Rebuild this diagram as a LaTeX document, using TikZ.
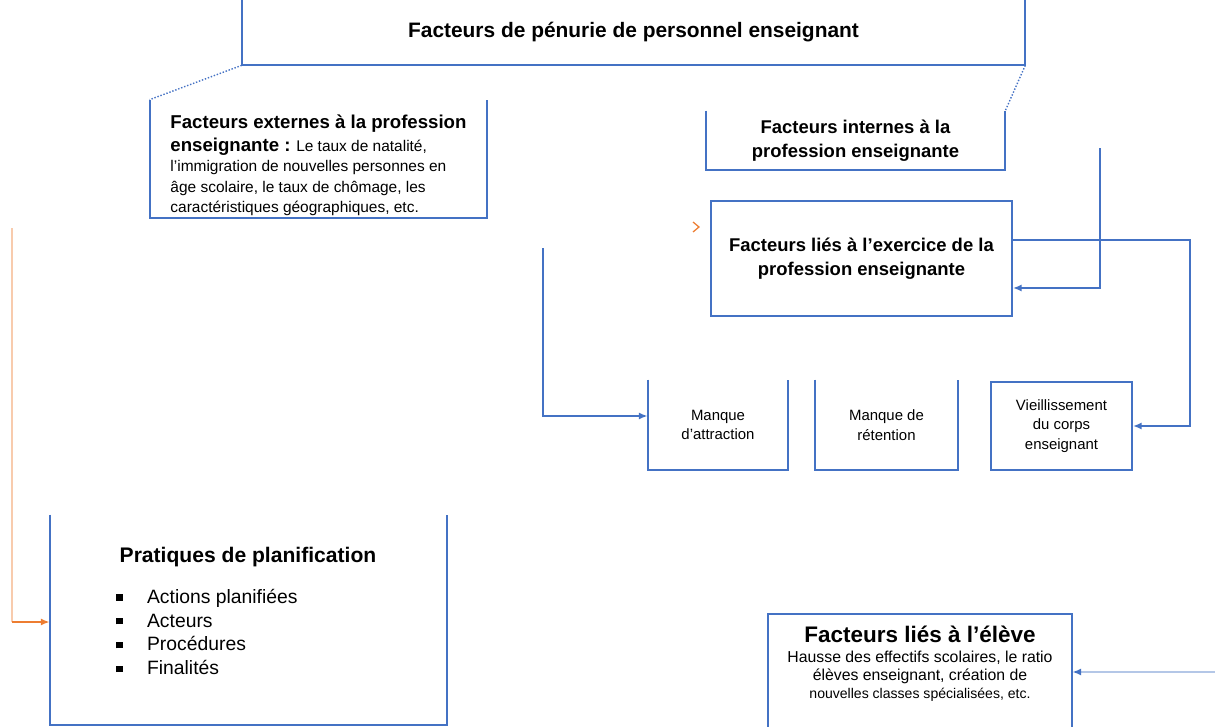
\documentclass[tikz,border=0pt]{standalone}
\usepackage{fontspec}
\setmainfont{Liberation Sans}
\usetikzlibrary{arrows.meta}
\definecolor{boxblue}{HTML}{4472C4}
\definecolor{linkorange}{HTML}{ED7D31}
\definecolor{paleorange}{HTML}{F8CBAD}
\definecolor{paleblue}{HTML}{B4C7E7}
\tikzset{
  frame/.style={draw=boxblue, line width=1pt},
  pane/.style={inner sep=0pt, align=center},
  headfont/.style={font=\bfseries\fontsize{10.5}{14}\selectfont},
  smallfont/.style={font=\fontsize{8.5}{11}\selectfont},
  link/.style={draw=boxblue, line width=1pt, -{Latex[length=5pt,width=4pt]}},
  dotlink/.style={draw=boxblue, line width=0.8pt, densely dotted},
}

\begin{document}
\begin{tikzpicture}[x=0.02cm, y=-0.02cm]
\useasboundingbox (0,0) rectangle (1215,727);

% boite du haut
\node[pane, minimum width=15.66cm, minimum height=1.32cm, font=\bfseries\fontsize{11.9}{14}\selectfont] (penurie) at (633.5,32) {Facteurs de pénurie de personnel enseignant};
\draw[frame] (penurie.north west) |- (penurie.south east) -- (penurie.north east);

% facteurs externes / internes
\node[pane, align=left, minimum width=6.74cm, minimum height=2.36cm, font=\fontsize{8.8}{11.5}\selectfont] (ext) at (318.5,159)
  {\rule{0pt}{15pt}{\bfseries\fontsize{10.6}{13}\selectfont Facteurs externes à la profession}\\[1.5pt]
   {\bfseries\fontsize{10.6}{13}\selectfont enseignante :} Le taux de natalité,\\
   l'immigration de nouvelles personnes en\\
   âge scolaire, le taux de chômage, les\\
   caractéristiques géographiques, etc.};
\draw[frame] (ext.north west) |- (ext.south east) -- (ext.north east);

\node[pane, headfont, minimum width=5.98cm, minimum height=1.18cm] (int) at (855.5,140.5)
  {Facteurs internes à la\\ profession enseignante};
\draw[frame] (int.north west) |- (int.south east) -- (int.north east);

\draw[dotlink] (penurie.south west) -- (ext.north west);
\draw[dotlink] (penurie.south east) -- (int.north east);

% exercice de la profession
\node[pane, headfont, frame, minimum width=6.02cm, minimum height=2.3cm] (exer) at (861.5,258.5)
  {Facteurs liés à l'exercice de la\\ profession enseignante};
\draw[linkorange, line width=0.7pt] (693,222) -- (699,227) -- (693,232);

% les trois effets
\node[pane, smallfont, minimum width=2.8cm, minimum height=1.8cm] (attr) at (718,425) {Manque\\ d'attraction};
\draw[frame] (attr.north west) |- (attr.south east) -- (attr.north east);
\node[pane, smallfont, minimum width=2.86cm, minimum height=1.8cm] (ret) at (886.5,425) {Manque de\\ rétention};
\draw[frame] (ret.north west) |- (ret.south east) -- (ret.north east);
\node[pane, smallfont, frame, minimum width=2.82cm, minimum height=1.76cm] (vieil) at (1061.5,426) {Vieillissement\\ du corps\\ enseignant};

% planification
\node[pane, minimum width=7.94cm, minimum height=4.2cm] (plan) at (248.5,620) {};
\draw[frame] (plan.north west) |- (plan.south east) -- (plan.north east);
\node[pane, font=\bfseries\fontsize{12}{14}\selectfont] (plantitle) at (248,557) {Pratiques de planification};
\node[pane, align=left, anchor=west, font=\fontsize{11}{13.6}\selectfont] (planlist) at (116,632)
  {\rule[1.5pt]{3.5pt}{3.5pt}\hspace{14pt}Actions planifiées\\
   \rule[1.5pt]{3.5pt}{3.5pt}\hspace{14pt}Acteurs\\
   \rule[1.5pt]{3.5pt}{3.5pt}\hspace{14pt}Procédures\\
   \rule[1.5pt]{3.5pt}{3.5pt}\hspace{14pt}Finalités};

% eleve
\node[pane, anchor=north, inner ysep=0.24cm, minimum width=6.08cm, font=\fontsize{9}{10.2}\selectfont] (eleve) at (920,614)
  {{\bfseries\fontsize{12.8}{14}\selectfont Facteurs liés à l'élève}\\[1pt]
   Hausse des effectifs scolaires, le ratio\\
   élèves enseignant, création de\\
   {\fontsize{8}{9}\selectfont nouvelles classes spécialisées, etc.}};
\draw[frame] (eleve.north west) rectangle ++(304,140);

% liens
\coordinate (srcA) at (543,248);
\draw[link] (srcA) |- ([yshift=0.18cm]attr.west);
\coordinate (srcB) at (1100,148);
\draw[link] (srcB) |- ([yshift=-0.59cm]exer.east);
\coordinate (bend) at (1190,330);
\draw[link] ([yshift=0.37cm]exer.east) -| (bend) |- (vieil.east);
\coordinate (srcC) at (12,228);
\coordinate (elbow) at (12,622);
\draw[paleorange, line width=1pt] (srcC) -- (elbow);
\draw[linkorange, line width=1pt, -{Latex[length=5pt,width=4pt]}] (elbow) -- (elbow -| plan.west);
\coordinate (srcD) at (1215,672);
\draw[paleblue, line width=1pt, -{Latex[length=5pt,width=4pt,color=boxblue]}] (srcD) -- (srcD -| eleve.east);
\end{tikzpicture}
\end{document}
